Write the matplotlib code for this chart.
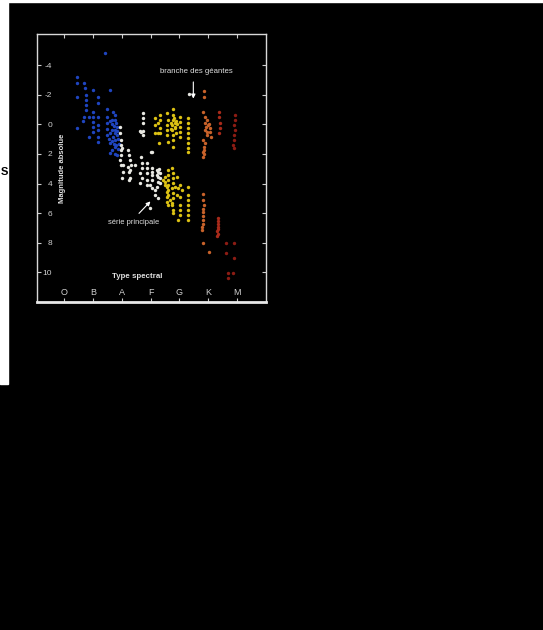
import matplotlib.pyplot as plt
from matplotlib.patches import Rectangle

plt.rcParams['font.family'] = ['Liberation Sans', 'DejaVu Sans']

# spectral classes on the x axis (O=0 ... M=6)
classes = ['O', 'B', 'A', 'F', 'G', 'K', 'M']
mag_ticks = [-4, -2, 0, 2, 4, 6, 8, 10]
mag_labels = ['-4', '-2', '0', '2', '4', '6', '8', '10']

# stars: spectral position, absolute magnitude
blue_x = [1.42, 0.45, 0.45, 0.45, 0.45, 0.69, 0.73, 0.76, 0.76, 0.76, 0.76, 0.69, 0.66, 0.87, 0.87,
          1.01, 1.01, 1.01, 1.01, 1.01, 1.01, 1.18, 1.18, 1.18, 1.18, 1.18, 1.18, 1.18,
          1.60, 1.49, 1.49, 1.49, 1.49, 1.49, 1.70, 1.67, 1.77, 1.67, 1.77, 1.70, 1.77, 1.60, 1.67, 1.77, 1.84,
          1.60, 1.65, 1.72, 1.80, 1.85, 1.75, 1.82, 1.88, 1.65, 1.72, 1.80, 1.86, 1.60, 1.55, 1.75, 1.83, 1.90, 1.78, 1.58]
blue_m = [-4.8, -3.18, -2.77, -1.82, 0.27, -2.77, -2.43, -1.96, -1.62, -1.28, -0.95, -0.47, -0.2, -0.47, 0.88,
          -2.3, -0.81, -0.47, -0.14, 0.2, 0.54, -1.82, -1.42, -0.47, 0.07, 0.41, 0.88, 1.22,
          -2.3, -1.01, -0.47, -0.07, 0.34, 0.74, -0.81, -0.27, -0.27, 0.41, 0.41, 0.88, 1.08, 1.28, 1.76, 1.55, 2.09,
          -0.2, 0.0, 0.1, -0.1, 0.2, 0.6, 0.75, 1.0, 1.1, 1.3, 1.4, 1.7, 0.6, 1.0, -0.6, 0.45, 1.3, 2.0, 1.95]

white_x = [1.94, 1.94, 1.98, 1.98, 2.01, 1.98, 1.98, 1.94, 1.98, 2.05, 2.05, 2.01,
           2.22, 2.26, 2.29, 2.33, 2.29, 2.29, 2.47, 2.22, 2.26, 2.26,
           2.74, 2.74, 2.74, 2.64, 2.74, 2.74, 2.67, 3.02, 3.06, 2.67,
           2.71, 2.71, 2.64, 2.71, 2.64, 2.88, 2.88, 2.88, 2.88, 2.88, 3.06, 3.06, 3.06, 2.99, 3.16,
           3.23, 3.26, 3.26, 3.26, 3.33, 3.33, 3.33, 3.23, 3.16, 2.99, 3.06, 3.26, 3.06, 3.23, 3.30, 4.34]
white_m = [0.2, 0.61, 1.08, 1.42, 1.62, 1.76, 2.09, 2.43, 2.77, 2.77, 3.24, 3.65,
           1.76, 2.09, 2.43, 2.77, 3.11, 3.65, 2.77, 2.91, 3.24, 3.78,
           -0.74, -0.41, -0.07, 0.47, 0.47, 0.74, 0.5, 1.89, 1.89, 2.23,
           2.64, 2.97, 3.31, 3.65, 3.99, 2.64, 2.97, 3.31, 3.78, 4.12, 2.97, 3.45, 3.78, 4.12, 4.46,
           3.11, 3.24, 3.58, 3.92, 3.31, 3.65, 3.99, 4.26, 4.8, 5.68, 4.32, 5.0, 3.24, 3.45, 3.0, -2.03]

yellow_x = [3.16, 3.16, 3.16, 3.33, 3.33, 3.26, 3.33, 3.26, 3.33, 3.30,
            3.58, 3.61, 3.58, 3.58, 3.58, 3.61, 3.78, 3.78, 3.78, 3.75, 3.75, 3.78, 3.78, 3.78,
            3.85, 3.85, 3.89, 3.82, 3.88, 3.83, 3.90, 3.72, 3.70, 4.03, 4.03, 4.03, 4.03, 4.03,
            4.31, 4.31, 4.31, 4.31, 4.31, 4.31, 4.31, 4.31,
            3.51, 3.51, 3.44, 3.51, 3.58, 3.58, 3.58, 3.58, 3.61,
            3.61, 3.61, 3.61, 3.61, 3.61, 3.61, 3.68, 3.75,
            3.75, 3.78, 3.78, 3.78, 3.75, 3.78, 3.78, 3.75, 3.78, 3.78,
            3.92, 3.85, 3.92, 3.96, 4.10, 4.03, 4.03, 4.03, 4.03, 4.03, 3.96,
            4.31, 4.31, 4.31, 4.31, 4.31, 4.31, 4.31]
yellow_m = [-0.41, 0.07, 0.61, -0.61, -0.27, -0.07, 0.27, 0.61, 0.61, 1.28,
            -0.74, -0.27, 0.07, 0.41, 0.74, 1.22, -1.01, -0.61, -0.27, 0.07, 0.41, 0.74, 1.08, 1.55,
            -0.07, 0.27, 0.61, -0.4, -0.2, 0.15, 0.0, -0.1, 0.3, -0.47, -0.14, 0.2, 0.54, 0.88,
            -0.41, -0.07, 0.27, 0.61, 0.95, 1.28, 1.62, 1.89,
            3.58, 3.92, 3.78, 4.12, 4.26, 4.59, 4.93, 5.27, 5.47,
            3.11, 3.45, 3.78, 4.12, 4.46, 4.8, 5.14, 5.47,
            2.97, 3.31, 3.65, 3.99, 4.32, 4.66, 5.0, 5.34, 5.81, 6.01,
            3.58, 4.26, 4.8, 4.32, 4.46, 4.12, 4.93, 5.47, 5.81, 6.15, 6.49,
            4.26, 4.8, 5.14, 5.47, 5.81, 6.15, 6.49]

orange_x = [4.86, 4.86, 4.83, 4.90, 4.97, 5.00, 5.07, 4.90, 5.07, 4.97, 5.10, 4.83, 4.90, 4.86, 4.83, 4.83,
            4.86, 4.86, 4.93, 4.88, 4.95, 5.03,
            4.83, 4.83, 4.86, 4.83, 4.83, 4.79, 4.79, 4.83, 4.83, 4.83, 4.83, 5.03]
orange_m = [-2.23, -1.82, -0.81, -0.47, -0.27, 0.07, 0.27, 0.41, 0.54, 0.74, 0.88, 1.08, 1.28, 1.55, 1.89, 2.23,
            1.76, 2.0, 0.2, -0.1, 0.5, 0.0,
            4.73, 5.14, 5.47, 5.95, 6.49, 6.96, 7.16, 6.2, 5.7, 6.75, 8.04, 8.65]

red_x = [5.38, 5.38, 5.42, 5.42, 5.38, 5.35, 5.35, 5.35, 5.35, 5.31, 5.31, 5.33, 5.33]
red_m = [-0.81, -0.47, -0.07, 0.27, 0.61, 6.35, 6.55, 6.75, 6.96, 7.2, 7.57, 7.05, 7.4]

dkred_x = [5.94, 5.94, 5.90, 5.94, 5.90, 5.90, 5.87, 5.90, 5.63, 5.90, 5.63, 5.90, 5.69, 5.87, 5.69]
dkred_m = [-0.61, -0.27, 0.07, 0.41, 0.74, 1.08, 1.42, 1.62, 8.04, 8.04, 8.72, 9.05, 10.07, 10.07, 10.41]

fig = plt.figure(figsize=(5.43, 6.30), dpi=100, facecolor='black')

# scanned page edge on the left and top
fig.patches.append(Rectangle((0, 0.39), 0.0147, 0.61, transform=fig.transFigure, color='white', zorder=0))
fig.patches.append(Rectangle((0, 0.9968), 1, 0.0032, transform=fig.transFigure, color='white', zorder=0))
fig.text(0.0005, 1 - 172 / 630, 'S', color='black', fontsize=8, fontweight='bold', ha='left', va='center')

ax = fig.add_axes([37 / 543, 1 - 302 / 630, 229 / 543, 268 / 630])
ax.set_facecolor('black')

dot = dict(s=6, linewidths=0, zorder=3)
ax.scatter(blue_x, blue_m, color='#1f45c0', **dot)
ax.scatter(white_x, white_m, color='#e8e8e2', **dot)
ax.scatter(yellow_x, yellow_m, color='#dcc214', **dot)
ax.scatter(orange_x, orange_m, color='#c8622a', **dot)
ax.scatter(red_x, red_m, color='#a82a1a', **dot)
ax.scatter(dkred_x, dkred_m, color='#8c1c14', **dot)

ax.set_xlim(-0.94, 7.0)
ax.set_ylim(12.0, -6.1)

for side in ['left', 'top', 'right']:
    ax.spines[side].set_color('#d8d8d8')
    ax.spines[side].set_linewidth(1.0)
ax.spines['bottom'].set_color('#e8e8e8')
ax.spines['bottom'].set_linewidth(2.0)

ax.set_xticks(range(len(classes)))
ax.set_xticklabels(classes)
ax.set_yticks(mag_ticks)
ax.set_yticklabels(mag_labels)
ax.tick_params(axis='x', direction='in', length=3, color='#cccccc', labelcolor='#d0d0d0',
               labelsize=6.5, pad=-10, top=True)
ax.tick_params(axis='y', direction='in', length=3, color='#cccccc', labelcolor='#d0d0d0',
               labelsize=6, pad=-11, right=True)

ax.text(-0.07, 3.0, 'Magnitude absolue', rotation=90, color='#e0e0e0', fontsize=5.5,
        fontweight='bold', ha='center', va='center')
ax.text(2.55, 10.3, 'Type spectral', color='#e0e0e0', fontsize=5.7, fontweight='bold',
        ha='center', va='center')

ax.text(4.6, -3.57, 'branche des géantes', color='#e0e0e0', fontsize=5.6, ha='center', va='center')
ax.annotate('', xy=(4.48, -1.55), xytext=(4.48, -3.05),
            arrowprops=dict(arrowstyle='-|>', color='white', lw=0.8, mutation_scale=6))
ax.text(2.40, 6.6, 'série principale', color='#e0e0e0', fontsize=5.4, ha='center', va='center')
ax.annotate('', xy=(3.06, 5.07), xytext=(2.53, 6.15),
            arrowprops=dict(arrowstyle='-|>', color='white', lw=0.8, mutation_scale=6))

fig.savefig('out.png', dpi=100, facecolor='black')
